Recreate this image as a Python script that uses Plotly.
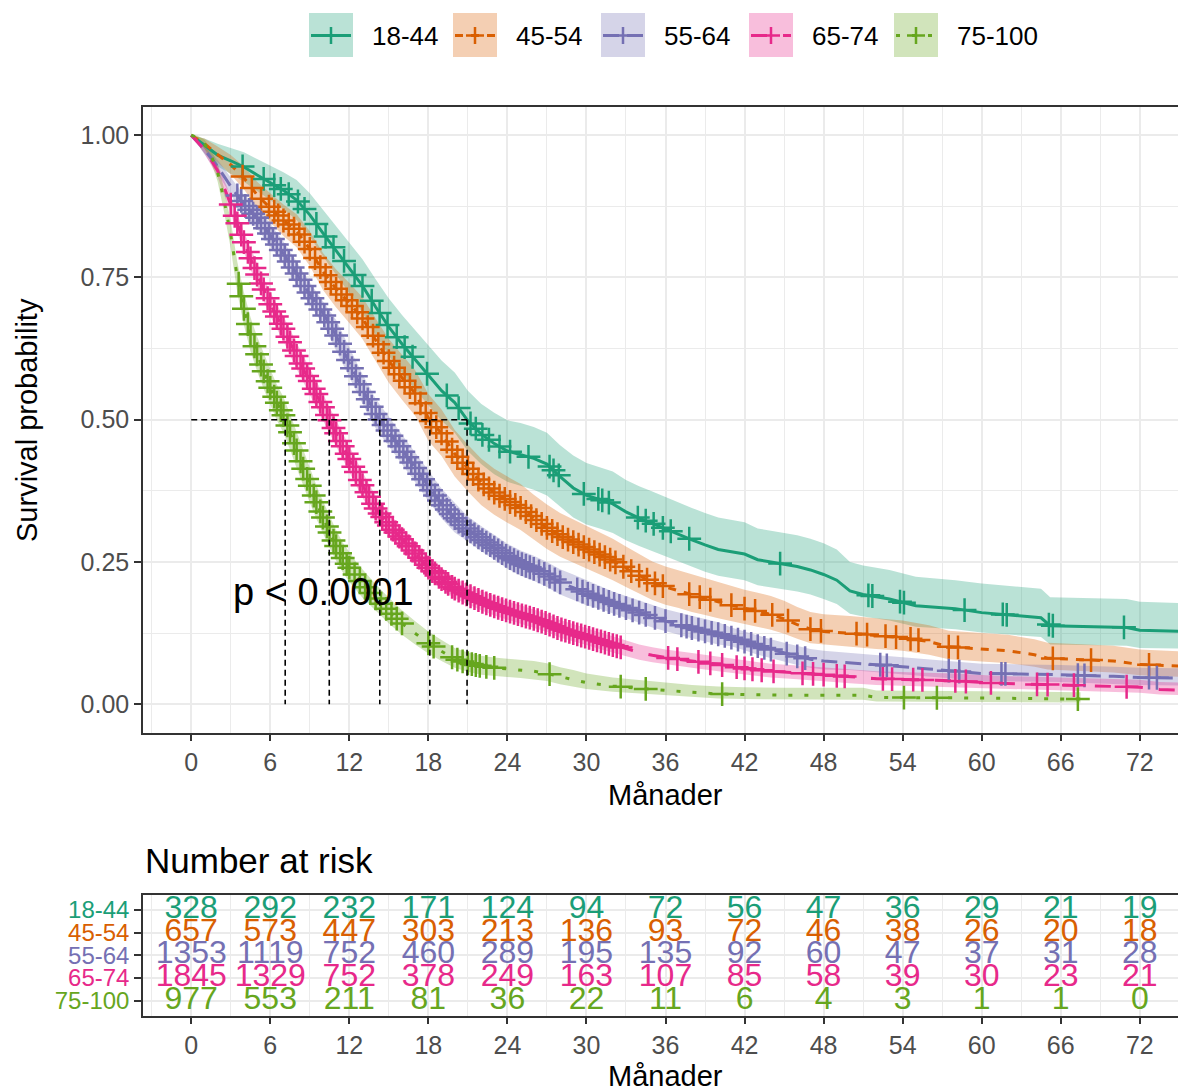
import numpy as np
import plotly.graph_objects as go

# ---------------- data ----------------
groups = ["18-44", "45-54", "55-64", "65-74", "75-100"]
colors = ["#1B9E77", "#D95F02", "#7570B3", "#E7298A", "#66A61E"]
fills = ["rgba(27,158,119,0.3)", "rgba(217,95,2,0.3)", "rgba(117,112,179,0.3)",
         "rgba(231,41,138,0.3)", "rgba(102,166,30,0.3)"]
dashes = ["solid", "8px,8px", "16px,8px", "16px,16px", "4px,12px"]

# 18-44
t_1844 = [0, 1, 2, 3, 4, 5, 6, 7, 8, 9, 10, 11, 12, 13, 14, 15, 16, 17, 18, 19, 20, 21, 22, 23, 24, 25, 26, 27, 28,
          29, 30, 31, 32, 33, 34, 35, 36, 37, 38, 39, 40, 42, 43, 44, 46, 47, 48, 49, 50, 51, 53, 55, 58, 60, 62,
          64.5, 65.2, 71, 72, 75]
s_1844 = [1.000, 0.982, 0.965, 0.955, 0.944, 0.930, 0.916, 0.903, 0.886, 0.860, 0.828, 0.797, 0.767, 0.735, 0.698,
          0.663, 0.633, 0.605, 0.578, 0.551, 0.530, 0.498, 0.475, 0.458, 0.445, 0.439, 0.432, 0.422, 0.400, 0.380,
          0.367, 0.360, 0.352, 0.338, 0.327, 0.318, 0.308, 0.298, 0.289, 0.280, 0.272, 0.264, 0.254, 0.250, 0.242,
          0.236, 0.228, 0.218, 0.199, 0.193, 0.185, 0.173, 0.168, 0.161, 0.157, 0.152, 0.138, 0.135, 0.130, 0.128]
lo_1844 = [1.000, 0.968, 0.945, 0.932, 0.918, 0.902, 0.886, 0.870, 0.851, 0.822, 0.787, 0.754, 0.722, 0.688, 0.649,
           0.613, 0.582, 0.553, 0.525, 0.498, 0.477, 0.445, 0.422, 0.404, 0.391, 0.384, 0.377, 0.367, 0.347, 0.328,
           0.316, 0.309, 0.301, 0.288, 0.278, 0.269, 0.259, 0.250, 0.242, 0.233, 0.226, 0.218, 0.209, 0.205, 0.198,
           0.193, 0.185, 0.176, 0.159, 0.154, 0.147, 0.136, 0.132, 0.126, 0.122, 0.118, 0.105, 0.103, 0.099, 0.098]
hi_1844 = [1.000, 0.994, 0.985, 0.978, 0.970, 0.958, 0.946, 0.935, 0.921, 0.898, 0.869, 0.840, 0.812, 0.782, 0.747,
           0.713, 0.684, 0.657, 0.631, 0.604, 0.583, 0.551, 0.528, 0.512, 0.499, 0.494, 0.487, 0.477, 0.455, 0.437,
           0.424, 0.417, 0.409, 0.394, 0.383, 0.374, 0.364, 0.354, 0.345, 0.336, 0.328, 0.320, 0.309, 0.305, 0.297,
           0.291, 0.283, 0.272, 0.250, 0.244, 0.236, 0.224, 0.218, 0.212, 0.208, 0.203, 0.188, 0.185, 0.180, 0.178]
cens_1844 = [3.9, 5.5, 6.3, 6.8, 7.4, 8.1, 8.6, 9.5, 10.2, 10.8, 11.6, 12.4, 13.0, 13.7, 14.3, 14.9, 15.6, 16.2,
             16.8, 17.9, 19.4, 20.3, 21.2, 21.6, 22.1, 22.6, 23.4, 24.2, 25.6, 27.2, 27.5, 27.9, 29.8, 30.9, 31.2,
             31.7, 33.9, 34.5, 35.1, 35.8, 36.4, 37.8, 44.7, 51.4, 51.7, 53.8, 54.1, 58.7, 61.6, 61.9, 65.1, 65.4,
             70.8]

# 45-54
t_4554 = [0, 1, 2, 3, 4, 5, 6, 7, 8, 9, 10, 11, 12, 13, 14, 15, 16, 17, 18, 19, 20, 21, 22, 23, 24, 25, 26, 27, 28,
          29, 30, 31, 32, 33, 34, 35, 36, 37, 38, 39, 40, 41, 42, 43, 44, 45, 46, 47, 48, 50, 52, 54, 56, 57.5,
          60, 62, 64, 65, 68, 70, 72, 75]
s_4554 = [1.000, 0.985, 0.966, 0.948, 0.925, 0.895, 0.872, 0.850, 0.832, 0.800, 0.760, 0.730, 0.705, 0.678, 0.640,
          0.603, 0.574, 0.546, 0.503, 0.476, 0.440, 0.414, 0.390, 0.372, 0.358, 0.345, 0.327, 0.310, 0.296, 0.285,
          0.274, 0.263, 0.252, 0.239, 0.226, 0.214, 0.206, 0.199, 0.192, 0.186, 0.180, 0.174, 0.168, 0.163, 0.158,
          0.150, 0.140, 0.132, 0.128, 0.125, 0.121, 0.117, 0.110, 0.101, 0.097, 0.094, 0.087, 0.081, 0.078, 0.076,
          0.070, 0.067]
lo_4554 = [1.000, 0.976, 0.952, 0.931, 0.905, 0.872, 0.847, 0.823, 0.803, 0.770, 0.728, 0.697, 0.670, 0.642, 0.603,
           0.565, 0.535, 0.507, 0.463, 0.436, 0.400, 0.374, 0.350, 0.333, 0.319, 0.306, 0.289, 0.273, 0.259, 0.249,
           0.239, 0.228, 0.218, 0.206, 0.194, 0.183, 0.175, 0.169, 0.162, 0.157, 0.151, 0.146, 0.140, 0.136, 0.131,
           0.124, 0.115, 0.107, 0.104, 0.101, 0.097, 0.094, 0.087, 0.079, 0.075, 0.072, 0.066, 0.061, 0.058, 0.056,
           0.051, 0.048]
hi_4554 = [1.000, 0.994, 0.980, 0.965, 0.945, 0.918, 0.898, 0.878, 0.861, 0.831, 0.793, 0.764, 0.740, 0.715, 0.678,
           0.642, 0.614, 0.587, 0.545, 0.518, 0.482, 0.456, 0.432, 0.414, 0.400, 0.387, 0.368, 0.351, 0.336, 0.325,
           0.313, 0.302, 0.291, 0.277, 0.264, 0.251, 0.242, 0.235, 0.228, 0.221, 0.214, 0.208, 0.201, 0.196, 0.190,
           0.182, 0.171, 0.162, 0.158, 0.155, 0.151, 0.147, 0.139, 0.129, 0.125, 0.122, 0.114, 0.108, 0.105, 0.103,
           0.096, 0.093]
cens_4554 = [3.9, 4.6, 5.3, 5.9, 6.3, 6.6, 7.0, 7.4, 7.8, 8.2, 8.6, 9.0, 9.4, 9.8, 10.2, 10.6, 11.0, 11.4, 11.8,
             12.2, 12.6, 13.0, 13.4, 13.8, 14.2, 14.6, 15.0, 15.4, 15.8, 16.2, 16.6, 17.0, 17.4, 17.8, 18.2, 18.6,
             19.0, 19.4, 19.8, 20.2, 20.6, 21.0, 21.4, 21.8, 22.2, 22.6, 23.0, 23.4, 23.8, 24.2, 24.6, 25.0, 25.4,
             25.8, 26.2, 26.6, 27.0, 27.4, 27.8, 28.2, 28.6, 29.0, 29.4, 29.8, 30.2, 30.6, 31.0, 31.4, 31.8, 32.2,
             32.8, 33.4, 34.0, 34.6, 35.2, 35.8, 37.8, 38.6, 39.4, 41.0, 42.0, 42.8, 44.1, 45.3, 47.0, 47.8, 50.5,
             51.3, 52.7, 53.5, 54.6, 55.2, 57.5, 58.2, 65.4, 68.3, 72.7]

# 55-64
t_5564 = [0, 1, 2, 3, 4, 5, 6, 7, 8, 9, 10, 11, 12, 13, 14, 15, 16, 17, 18, 19, 20, 21, 22, 23, 24, 25, 26, 27, 28,
          29, 30, 31, 32, 33, 34, 35, 36, 37, 38, 39, 40, 41, 42, 43, 44, 45, 46, 47, 48, 50, 52, 54, 56, 58, 60,
          63, 66, 70, 72, 75]
s_5564 = [1.000, 0.975, 0.945, 0.910, 0.878, 0.855, 0.824, 0.792, 0.757, 0.720, 0.687, 0.648, 0.600, 0.553, 0.510,
          0.478, 0.447, 0.415, 0.382, 0.352, 0.327, 0.307, 0.290, 0.275, 0.259, 0.247, 0.238, 0.227, 0.214, 0.205,
          0.195, 0.186, 0.177, 0.169, 0.161, 0.153, 0.146, 0.140, 0.134, 0.128, 0.123, 0.117, 0.110, 0.102, 0.096,
          0.090, 0.084, 0.079, 0.076, 0.073, 0.070, 0.066, 0.062, 0.058, 0.054, 0.053, 0.052, 0.049, 0.047, 0.046]
lo_5564 = [1.000, 0.967, 0.933, 0.895, 0.861, 0.836, 0.805, 0.773, 0.738, 0.701, 0.668, 0.623, 0.575, 0.528, 0.485,
           0.453, 0.422, 0.390, 0.357, 0.327, 0.302, 0.286, 0.269, 0.254, 0.238, 0.226, 0.217, 0.206, 0.193, 0.184,
           0.174, 0.168, 0.159, 0.151, 0.143, 0.135, 0.128, 0.122, 0.116, 0.110, 0.105, 0.102, 0.095, 0.087, 0.081,
           0.075, 0.069, 0.064, 0.061, 0.060, 0.057, 0.053, 0.049, 0.045, 0.041, 0.040, 0.039, 0.036, 0.034, 0.033]
hi_5564 = [1.000, 0.983, 0.957, 0.925, 0.895, 0.876, 0.845, 0.813, 0.778, 0.741, 0.708, 0.675, 0.627, 0.580, 0.537,
           0.505, 0.474, 0.442, 0.409, 0.379, 0.354, 0.330, 0.313, 0.298, 0.282, 0.270, 0.261, 0.250, 0.237, 0.228,
           0.218, 0.207, 0.198, 0.190, 0.182, 0.174, 0.167, 0.161, 0.155, 0.149, 0.144, 0.135, 0.128, 0.120, 0.114,
           0.108, 0.102, 0.097, 0.094, 0.090, 0.087, 0.083, 0.079, 0.075, 0.071, 0.070, 0.069, 0.066, 0.064, 0.063]
cens_5564 = [3.5, 3.8, 4.1, 4.4, 4.7, 5.0, 5.3, 5.6, 5.9, 6.2, 6.5, 6.8, 7.1, 7.4, 7.7, 8.0, 8.3, 8.6, 8.9, 9.2, 9.5,
             9.8, 10.1, 10.4, 10.7, 11.0, 11.3, 11.6, 11.9, 12.2, 12.5, 12.8, 13.1, 13.4, 13.7, 14.0, 14.3, 14.6,
             14.9, 15.2, 15.5, 15.8, 16.1, 16.4, 16.7, 17.0, 17.3, 17.6, 17.9, 18.2, 18.5, 18.8, 19.1, 19.4, 19.7,
             20.0, 20.3, 20.6, 20.9, 21.2, 21.5, 21.8, 22.1, 22.4, 22.7, 23.0, 23.3, 23.6, 23.9, 24.2, 24.5, 24.8,
             25.1, 25.4, 25.7, 26.0, 26.4, 26.8, 27.2, 27.6, 28.0, 29.3, 29.7, 30.1, 30.5, 30.9, 31.3, 31.7, 32.1,
             32.5, 33.0, 33.5, 34.0, 34.5, 35.2, 36.0, 37.2, 37.6, 38.0, 38.5, 39.0, 39.5, 40.0, 40.5, 41.0, 41.5,
             42.0, 42.5, 43.0, 43.5, 44.0, 45.2, 46.0, 46.6, 52.3, 52.8, 57.5, 58.3, 61.5, 61.8, 67.3, 67.8, 72.7,
             73.3]

# 65-74
t_6574 = [0, 1, 2, 3, 4, 5, 6, 7, 8, 9, 10, 11, 12, 13, 14, 15, 16, 17, 18, 19, 20, 21, 22, 23, 24, 25, 26, 27, 28,
          29, 30, 31, 32, 33, 34, 35, 36, 38, 40, 42, 44, 46, 48, 50, 52, 55, 58, 61, 64, 68, 72, 73.5, 75]
s_6574 = [1.000, 0.975, 0.938, 0.878, 0.812, 0.755, 0.703, 0.660, 0.612, 0.568, 0.522, 0.476, 0.431, 0.385, 0.344,
          0.314, 0.290, 0.265, 0.240, 0.220, 0.203, 0.192, 0.181, 0.172, 0.164, 0.157, 0.150, 0.142, 0.132, 0.125,
          0.118, 0.111, 0.104, 0.097, 0.091, 0.086, 0.082, 0.076, 0.070, 0.063, 0.058, 0.055, 0.052, 0.048, 0.045,
          0.043, 0.041, 0.037, 0.035, 0.033, 0.030, 0.026, 0.025]
lo_6574 = [1.000, 0.968, 0.927, 0.863, 0.794, 0.735, 0.682, 0.638, 0.589, 0.545, 0.499, 0.453, 0.408, 0.363, 0.323,
           0.294, 0.270, 0.246, 0.221, 0.202, 0.186, 0.175, 0.165, 0.156, 0.148, 0.141, 0.134, 0.127, 0.117, 0.110,
           0.104, 0.097, 0.090, 0.084, 0.078, 0.074, 0.070, 0.064, 0.058, 0.052, 0.047, 0.044, 0.041, 0.037, 0.034,
           0.032, 0.030, 0.027, 0.025, 0.023, 0.020, 0.017, 0.016]
hi_6574 = [1.000, 0.982, 0.949, 0.893, 0.830, 0.775, 0.724, 0.682, 0.635, 0.591, 0.545, 0.499, 0.454, 0.408, 0.366,
           0.335, 0.311, 0.285, 0.260, 0.239, 0.221, 0.210, 0.199, 0.190, 0.181, 0.174, 0.167, 0.159, 0.148, 0.141,
           0.134, 0.127, 0.119, 0.112, 0.105, 0.100, 0.096, 0.090, 0.084, 0.077, 0.071, 0.068, 0.065, 0.061, 0.058,
           0.056, 0.054, 0.050, 0.048, 0.046, 0.043, 0.039, 0.038]
cens_6574 = [3.0, 3.3, 3.5, 3.8, 4.0, 4.3, 4.5, 4.8, 5.0, 5.3, 5.5, 5.8, 6.0, 6.3, 6.5, 6.8, 7.0, 7.3, 7.5, 7.8, 8.0,
             8.3, 8.5, 8.8, 9.0, 9.3, 9.5, 9.8, 10.0, 10.3, 10.5, 10.8, 11.0, 11.3, 11.5, 11.8, 12.0, 12.3, 12.5,
             12.8, 13.0, 13.3, 13.5, 13.8, 14.0, 14.3, 14.5, 14.8, 15.0, 15.3, 15.5, 15.8, 16.0, 16.3, 16.5, 16.8,
             17.0, 17.3, 17.5, 17.8, 18.0, 18.3, 18.5, 18.8, 19.0, 19.3, 19.5, 19.8, 20.0, 20.3, 20.6, 20.9, 21.2,
             21.5, 21.8, 22.1, 22.4, 22.7, 23.0, 23.3, 23.6, 23.9, 24.2, 24.5, 24.8, 25.1, 25.4, 25.7, 26.0, 26.3,
             26.6, 26.9, 27.2, 27.5, 27.8, 28.1, 28.4, 28.7, 29.0, 29.3, 29.6, 29.9, 30.2, 30.5, 30.8, 31.1, 31.4,
             31.7, 32.0, 32.3, 32.6, 36.2, 36.9, 38.5, 39.4, 40.3, 41.4, 42.0, 42.6, 43.3, 44.2, 46.4, 47.2, 48.0,
             49.0, 49.6, 52.5, 53.2, 54.8, 55.5, 58.0, 58.8, 60.7, 64.2, 65.0, 67.0, 71.0]

# 75-100
t_75100 = [0, 0.5, 1, 1.5, 2, 2.5, 3, 3.5, 4, 4.5, 5, 5.5, 6, 6.5, 7, 7.5, 8, 8.5, 9, 9.5, 10, 10.5, 11, 11.5, 12,
           12.5, 13, 13.5, 14, 15, 16, 17, 18, 19, 20, 21, 22, 23, 24, 25, 26, 27, 28, 29, 30, 32, 34, 36, 38, 40,
           42, 45, 51, 52, 60, 67.5]
s_75100 = [1.000, 0.995, 0.985, 0.965, 0.935, 0.885, 0.825, 0.750, 0.695, 0.650, 0.615, 0.585, 0.556, 0.530, 0.508,
           0.478, 0.446, 0.414, 0.384, 0.355, 0.328, 0.302, 0.278, 0.257, 0.240, 0.225, 0.211, 0.198, 0.186, 0.163,
           0.142, 0.124, 0.107, 0.093, 0.080, 0.072, 0.067, 0.064, 0.062, 0.060, 0.058, 0.054, 0.048, 0.043, 0.038,
           0.032, 0.028, 0.024, 0.021, 0.018, 0.017, 0.016, 0.016, 0.012, 0.011, 0.009]
lo_75100 = [1.000, 0.990, 0.977, 0.953, 0.919, 0.864, 0.801, 0.723, 0.666, 0.620, 0.585, 0.554, 0.525, 0.499, 0.477,
            0.447, 0.415, 0.383, 0.354, 0.326, 0.300, 0.275, 0.252, 0.232, 0.215, 0.201, 0.187, 0.175, 0.164, 0.142,
            0.122, 0.105, 0.089, 0.076, 0.064, 0.057, 0.052, 0.050, 0.048, 0.046, 0.044, 0.041, 0.035, 0.031, 0.027,
            0.022, 0.018, 0.015, 0.013, 0.010, 0.009, 0.008, 0.008, 0.005, 0.004, 0.003]
hi_75100 = [1.000, 0.999, 0.992, 0.976, 0.950, 0.906, 0.849, 0.777, 0.724, 0.680, 0.646, 0.616, 0.588, 0.562, 0.540,
            0.510, 0.478, 0.446, 0.415, 0.385, 0.357, 0.331, 0.306, 0.284, 0.267, 0.251, 0.237, 0.223, 0.211, 0.187,
            0.165, 0.146, 0.128, 0.113, 0.099, 0.091, 0.085, 0.082, 0.080, 0.078, 0.076, 0.072, 0.065, 0.060, 0.054,
            0.047, 0.042, 0.038, 0.034, 0.031, 0.030, 0.029, 0.029, 0.024, 0.023, 0.021]
cens_75100 = [3.6, 3.8, 4.0, 4.3, 4.5, 4.8, 5.0, 5.3, 5.5, 5.8, 6.0, 6.3, 6.5, 6.8, 7.0, 7.3, 7.5, 7.8, 8.0, 8.3,
              8.5, 8.8, 9.0, 9.3, 9.5, 9.8, 10.0, 10.3, 10.5, 10.8, 11.0, 11.3, 11.5, 11.8, 12.0, 12.4, 12.8, 13.2,
              13.6, 14.0, 14.4, 14.8, 15.2, 15.6, 16.0, 18.0, 18.4, 19.8, 20.2, 20.6, 21.0, 21.3, 21.6, 21.9,
              22.4, 23.0, 27.2, 32.6, 34.5, 40.3, 54.1, 56.6, 67.3]

# Number at risk
risk_times = [0, 6, 12, 18, 24, 30, 36, 42, 48, 54, 60, 66, 72]
risk_1844 = [328, 292, 232, 171, 124, 94, 72, 56, 47, 36, 29, 21, 19]
risk_4554 = [657, 573, 447, 303, 213, 136, 93, 72, 46, 38, 26, 20, 18]
risk_5564 = [1353, 1119, 752, 460, 289, 195, 135, 92, 60, 47, 37, 31, 28]
risk_6574 = [1845, 1329, 752, 378, 249, 163, 107, 85, 58, 39, 30, 23, 21]
risk_75100 = [977, 553, 211, 81, 36, 22, 11, 6, 4, 3, 1, 1, 0]

pval_text = "p < 0.0001"

# ---------------- figure ----------------
W, H = 1178, 1088
ML = 143
FONT = "Liberation Sans, Arial, sans-serif"


def px(xp):
    return (xp - ML) / (W - ML)


def py(yp):
    return (H - yp) / H


series = [
    (t_1844, s_1844, lo_1844, hi_1844, cens_1844),
    (t_4554, s_4554, lo_4554, hi_4554, cens_4554),
    (t_5564, s_5564, lo_5564, hi_5564, cens_5564),
    (t_6574, s_6574, lo_6574, hi_6574, cens_6574),
    (t_75100, s_75100, lo_75100, hi_75100, cens_75100),
]
risks = [risk_1844, risk_4554, risk_5564, risk_6574, risk_75100]

fig = go.Figure()

# confidence bands
for i, (t, s, lo, hi, c) in enumerate(series):
    fig.add_trace(go.Scatter(
        x=list(t) + list(t)[::-1], y=list(hi) + list(lo)[::-1],
        fill="toself", fillcolor=fills[i], line=dict(width=0), mode="lines",
        hoverinfo="skip", showlegend=False, xaxis="x", yaxis="y"))

# survival curves
for i, (t, s, lo, hi, c) in enumerate(series):
    fig.add_trace(go.Scatter(
        x=t, y=s, mode="lines", name=groups[i],
        line=dict(color=colors[i], width=3, dash=dashes[i]),
        showlegend=False, xaxis="x", yaxis="y"))

# censor marks
for i, (t, s, lo, hi, c) in enumerate(series):
    cy = np.interp(c, t, s)
    fig.add_trace(go.Scatter(
        x=c, y=cy, mode="markers",
        marker=dict(symbol="cross-thin", size=17, color=colors[i],
                    line=dict(width=2.5, color=colors[i])),
        showlegend=False, hoverinfo="skip", xaxis="x", yaxis="y"))

# median survival lines
medians = [float(np.interp(0.5, np.array(s)[::-1], np.array(t)[::-1])) for (t, s, lo, hi, c) in series]
mx = [0, max(medians), None]
my = [0.5, 0.5, None]
for m in medians:
    mx += [m, m, None]
    my += [0.5, 0, None]
fig.add_trace(go.Scatter(x=mx, y=my, mode="lines",
                         line=dict(color="black", width=1.6, dash="6px,4px"),
                         showlegend=False, hoverinfo="skip", xaxis="x", yaxis="y"))

# risk table
for i, r in enumerate(risks):
    row = len(groups) - i
    fig.add_trace(go.Scatter(
        x=risk_times, y=[row] * len(risk_times), mode="text",
        text=[str(v) for v in r], textposition="middle center",
        textfont=dict(color=colors[i], size=32, family=FONT),
        showlegend=False, hoverinfo="skip", xaxis="x2", yaxis="y2", cliponaxis=False))

axis_common = dict(
    showline=True, linecolor="#333333", linewidth=1.5,
    ticks="outside", ticklen=7, tickwidth=1.5, tickcolor="#333333",
    tickfont=dict(family=FONT, size=25, color="#4D4D4D"),
    showgrid=True, gridcolor="#EBEBEB", gridwidth=1.6,
    zeroline=False, automargin=False,
)
xr = [-3.66, 74.9]

fig.update_layout(
    width=W, height=H,
    margin=dict(l=ML, r=0, t=0, b=0),
    paper_bgcolor="white", plot_bgcolor="white",
    font=dict(family=FONT, color="black"),
    xaxis=dict(domain=[0, 1], range=xr, tickmode="linear", tick0=0, dtick=6, anchor="y", mirror=True,
               minor=dict(tickmode="linear", tick0=0, dtick=3, showgrid=True, gridcolor="#EBEBEB", gridwidth=0.9),
               **axis_common),
    yaxis=dict(domain=[py(732.7), py(106.7)], range=[-0.05, 1.05], tickmode="linear", tick0=0, dtick=0.25,
               tickformat=".2f", anchor="x",
               minor=dict(tickmode="linear", tick0=0, dtick=0.125, showgrid=True, gridcolor="#EBEBEB",
                          gridwidth=0.9),
               **axis_common),
    xaxis2=dict(domain=[0, 1], range=xr, tickmode="linear", tick0=0, dtick=6, anchor="y2", mirror=True,
                minor=dict(tickmode="linear", tick0=0, dtick=3, showgrid=True, gridcolor="#EBEBEB", gridwidth=0.9),
                **axis_common),
    yaxis2=dict(domain=[py(1015.7), py(895)], range=[0.34, 5.66], tickmode="array",
                tickvals=[5, 4, 3, 2, 1],
                ticktext=['<span style="color:%s">%s</span>' % (colors[i], g) for i, g in enumerate(groups)],
                anchor="x2", **{**axis_common, "tickfont": dict(family=FONT, size=24)}),
)

ann = []
# axis titles
ann.append(dict(text="Survival probability", x=px(27), y=py(420), xref="paper", yref="paper",
                textangle=-90, showarrow=False, font=dict(size=29, color="black", family=FONT),
                xanchor="center", yanchor="middle"))
ann.append(dict(text="Månader", x=px(665), y=py(795), xref="paper", yref="paper", showarrow=False,
                font=dict(size=29, color="black", family=FONT), xanchor="center", yanchor="middle"))
ann.append(dict(text="Månader", x=px(665), y=py(1076), xref="paper", yref="paper", showarrow=False,
                font=dict(size=29, color="black", family=FONT), xanchor="center", yanchor="middle"))
ann.append(dict(text="Number at risk", x=px(143), y=py(860), xref="paper", yref="paper", showarrow=False,
                font=dict(size=35, color="black", family=FONT), xanchor="left", yanchor="middle"))
# p-value
ann.append(dict(text=pval_text, x=3.0, y=0.197, xref="x", yref="y", showarrow=False,
                font=dict(size=38, color="black", family=FONT), xanchor="left", yanchor="middle"))

# manual legend
shapes = []
leg_x = [309, 453, 601, 749, 894]
for i, g in enumerate(groups):
    x0 = leg_x[i]
    shapes.append(dict(type="rect", xref="paper", yref="paper", x0=px(x0), x1=px(x0 + 44),
                       y0=py(57), y1=py(13), fillcolor=fills[i], line=dict(width=0), layer="above"))
    shapes.append(dict(type="line", xref="paper", yref="paper", x0=px(x0 + 2), x1=px(x0 + 42),
                       y0=py(35.5), y1=py(35.5), line=dict(color=colors[i], width=3, dash=dashes[i])))
    shapes.append(dict(type="line", xref="paper", yref="paper", x0=px(x0 + 22), x1=px(x0 + 22),
                       y0=py(27), y1=py(44), line=dict(color=colors[i], width=2.5)))
    shapes.append(dict(type="line", xref="paper", yref="paper", x0=px(x0 + 13), x1=px(x0 + 31),
                       y0=py(35.5), y1=py(35.5), line=dict(color=colors[i], width=2.5)))
    ann.append(dict(text=g, x=px(x0 + 61), y=py(36), xref="paper", yref="paper", showarrow=False,
                    font=dict(size=26, color="black", family=FONT), xanchor="left", yanchor="middle"))

fig.update_layout(annotations=ann, shapes=shapes)
fig.write_html("out.html")
